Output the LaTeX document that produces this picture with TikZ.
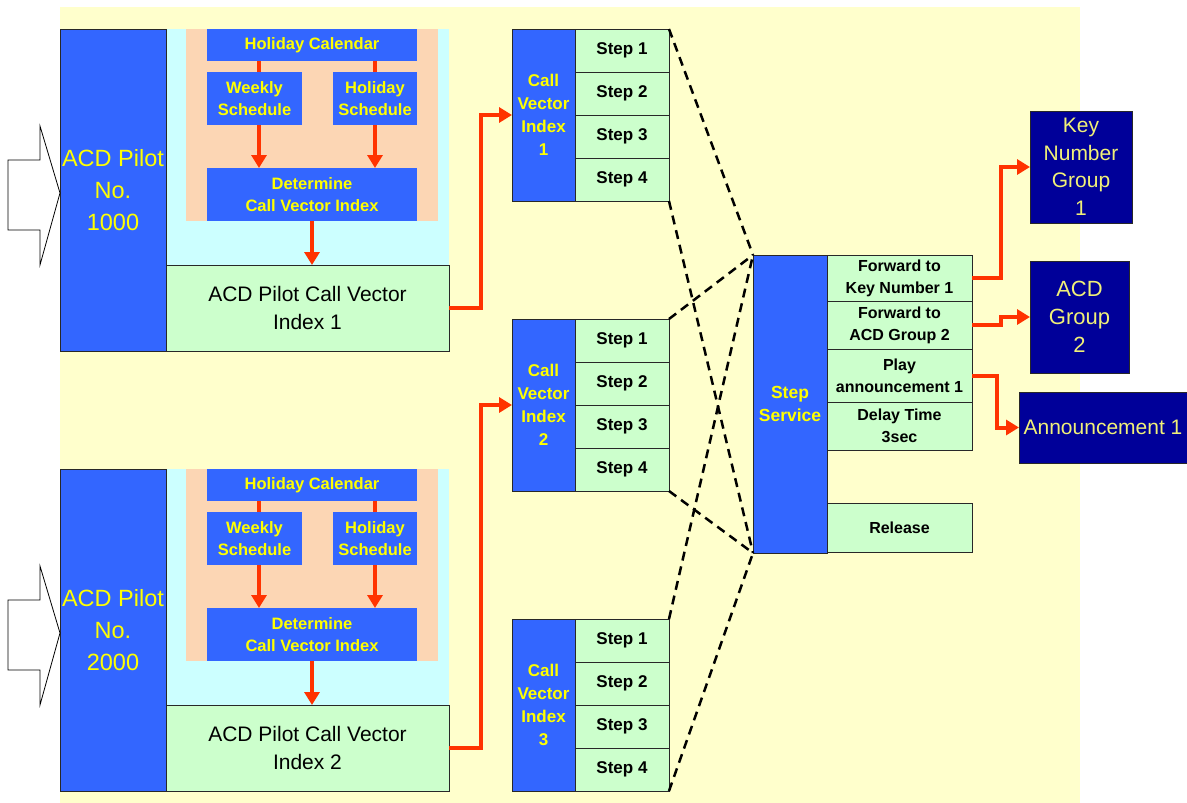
\documentclass[tikz,border=0pt]{standalone}
\usepackage{fontspec}
\setmainfont{Liberation Sans}
\usetikzlibrary{arrows.meta,calc}
\definecolor{bgyellow}{RGB}{255,255,204}
\definecolor{boxblue}{RGB}{51,102,255}
\definecolor{navy}{RGB}{0,0,153}
\definecolor{lgreen}{RGB}{204,255,204}
\definecolor{lcyan}{RGB}{204,255,255}
\definecolor{peach}{RGB}{252,214,180}
\definecolor{arrred}{RGB}{255,51,0}
\definecolor{ytext}{RGB}{255,255,0}
\definecolor{ltext}{RGB}{240,240,120}
\definecolor{edge}{RGB}{40,40,40}
\tikzset{
 box/.style={anchor=north west, inner sep=0pt, outer sep=0pt, align=center},
 bluebox/.style={box, fill=boxblue, draw=edge, line width=0.8pt, text=ytext},
 schedbox/.style={box, fill=boxblue, text=ytext, font=\fontsize{16.5}{22}\selectfont\bfseries},
 greenbox/.style={box, fill=lgreen, draw=edge, line width=1pt, text=black},
 stepbox/.style={greenbox, minimum width=94pt, minimum height=43pt, font=\fontsize{17}{20}\selectfont\bfseries},
 svcbox/.style={greenbox, minimum width=145pt, font=\fontsize{16}{22}\selectfont\bfseries},
 navybox/.style={box, fill=navy, draw=edge, line width=0.8pt, text=ltext},
 region/.style={box},
 redarrow/.style={draw=arrred, line width=4pt, -{Triangle[width=15pt,length=13pt]}},
 redline/.style={draw=arrred, line width=4pt},
 dashline/.style={draw=black, line width=2.5pt, dash pattern=on 9pt off 6pt},
 inarrow/.style={draw=black, line width=0.8pt, fill=white},
}
\begin{document}
\begin{tikzpicture}[x=1pt,y=-1pt]
\useasboundingbox (0,0) rectangle (1187,803);
\fill[white] (0,0) rectangle (1187,803);
\fill[bgyellow] (60,7) rectangle (1080,803);

% ---- two pilot blocks
\foreach \dy/\n/\num in {0/1/1000, 440/2/2000}{
  \node[region, fill=lcyan, minimum width=283pt, minimum height=236pt] (cyan\n) at (166,{29+\dy}) {};
  \node[region, fill=peach, minimum width=252pt, minimum height=192pt] (peach\n) at (186,{29+\dy}) {};
  \node[schedbox, minimum width=210pt, minimum height=32pt] (hc\n) at (207,{29+\dy}) {Holiday Calendar};
  \node[schedbox, minimum width=95pt, minimum height=53pt] (ws\n) at (207,{72+\dy}) {Weekly\\Schedule};
  \node[schedbox, minimum width=84pt, minimum height=53pt] (hs\n) at (333,{72+\dy}) {Holiday\\Schedule};
  \node[schedbox, minimum width=210pt, minimum height=53pt] (det\n) at (207,{168+\dy}) {Determine\\Call Vector Index};
  \node[bluebox, minimum width=106pt, minimum height=322pt, font=\fontsize{23.5}{32}\selectfont] (pilot\n) at (60,{29+\dy}) {ACD Pilot\\No.\\\num};
  \node[greenbox, minimum width=283pt, minimum height=86pt, font=\fontsize{21}{28}\selectfont] (pcv\n) at (166,{265+\dy}) {ACD Pilot Call Vector\\Index \n};
  \draw[inarrow] (8,{160+\dy}) -- (40,{160+\dy}) -- (40,{126+\dy}) -- (60,{193+\dy}) -- (40,{265+\dy}) -- (40,{230+\dy}) -- (8,{230+\dy}) -- cycle;
  \draw[redline] ([xshift=4.5pt]ws\n.north) -- ([xshift=4.5pt]ws\n.north |- hc\n.south);
  \draw[redline] (hs\n.north) -- (hs\n.north |- hc\n.south);
  \draw[redarrow] ([xshift=4.5pt]ws\n.south) -- ([xshift=4.5pt]ws\n.south |- det\n.north);
  \draw[redarrow] (hs\n.south) -- (hs\n.south |- det\n.north);
  \draw[redarrow] (det\n.south) -- (det\n.south |- pcv\n.north);
}

% ---- call vector indexes
\foreach \n/\y in {1/29, 2/319, 3/619}{
  \node[bluebox, minimum width=63pt, minimum height=172pt, font=\fontsize{17}{23}\selectfont\bfseries] (cvi\n) at (512,\y) {Call\\Vector\\Index\\\n};
  \foreach \k in {1,...,4}{
    \node[stepbox] (cvi\n-\k) at (575,{\y+43*(\k-1)}) {Step \k};
  }
}

% ---- step service
\node[bluebox, minimum width=74pt, minimum height=298pt, font=\fontsize{17.5}{23}\selectfont\bfseries] (ss) at (753,255) {Step\\Service};
\node[svcbox, minimum height=46pt] (ss1) at (827,255) {Forward to\\Key Number 1};
\node[svcbox, minimum height=48pt] (ss2) at (827,301) {Forward to\\ACD Group 2};
\node[svcbox, minimum height=53pt] (ss3) at (827,349) {Play\\announcement 1};
\node[svcbox, minimum height=48pt] (ss4) at (827,402) {Delay Time\\3sec};
\node[svcbox, minimum height=49pt] (rel) at (827,503) {Release};

% ---- targets
\node[navybox, minimum width=102pt, minimum height=112pt, font=\fontsize{21}{27.5}\selectfont] (kng) at (1030,111) {Key\\Number\\Group\\1};
\node[navybox, minimum width=99pt, minimum height=112pt, font=\fontsize{22}{28}\selectfont] (acdg) at (1030,261) {ACD\\Group\\2};
\node[navybox, minimum width=168pt, minimum height=71pt, font=\fontsize{21}{26}\selectfont] (ann) at (1019,392) {Announcement 1};

% ---- connectors
\draw[redarrow] (pcv1.east) -- ++(32,0) |- (cvi1.west);
\draw[redarrow] (pcv2.east) -- ++(32,0) |- (cvi2.west);
\draw[redarrow] (ss1.east) -- ++(29,0) |- (kng.west);
\draw[redarrow] (ss2.east) -- ++(29,0) |- (acdg.west);
\draw[redarrow] (ss3.east) -- ++(25,0) |- (ann.west);

\foreach \n in {1,2,3}{
  \draw[dashline] (cvi\n-1.north east) -- (ss.north west);
  \draw[dashline] (cvi\n-4.south east) -- (ss.south west);
}
\end{tikzpicture}
\end{document}
